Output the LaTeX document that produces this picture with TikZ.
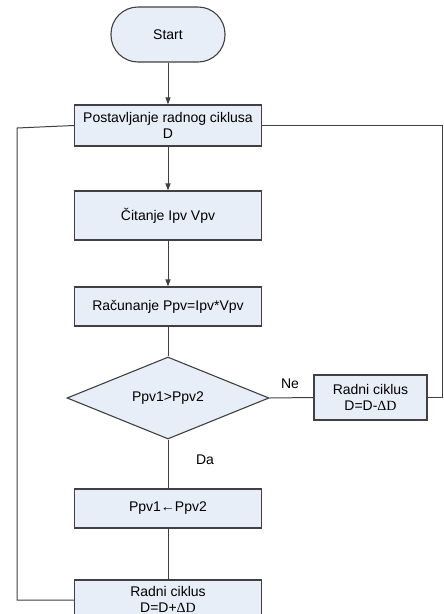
\documentclass[tikz,border=0pt]{standalone}
\usepackage{fontspec}
\setmainfont{Liberation Sans}
\newfontfamily\serifd{Liberation Serif}
\usetikzlibrary{shapes.geometric,arrows.meta}
\definecolor{boxfill}{RGB}{232,238,247}
\definecolor{linec}{RGB}{64,64,64}
\tikzset{
  txt/.style={font=\fontsize{14}{16}\selectfont},
  proc/.style={draw=linec, line width=1.1pt, fill=boxfill, minimum width=187pt, align=center, inner sep=0pt, txt},
  conn/.style={draw=linec, line width=1pt},
  arr/.style={conn, -{Triangle[length=7pt,width=5pt]}},
  lbl/.style={txt, inner sep=0pt}
}
\begin{document}
\begin{tikzpicture}[x=1pt,y=-1pt]
\useasboundingbox (0,0) rectangle (444,614);
\clip (0,0) rectangle (444,614);
\node[proc, rounded corners=27pt, minimum width=114pt, minimum height=55pt] (start) at (168,34.5) {Start};
\node[proc, minimum height=41pt] (set) at (168,125.5) {Postavljanje radnog ciklusa\\D};
\node[proc, minimum height=49pt] (read) at (168,215.5) {Čitanje Ipv Vpv};
\node[proc, minimum height=39pt] (calc) at (168,306.5) {Računanje Ppv=Ipv*Vpv};
\node[diamond, draw=linec, line width=1.1pt, fill=boxfill, minimum width=202pt, minimum height=82pt, aspect=2.46, inner sep=0pt] (dec) at (168,398) {};
\node[lbl] at (168,398) {Ppv1>Ppv2};
\node[proc, minimum width=113pt, minimum height=45pt] (dec2) at (370.5,397.5) {Radni ciklus\\D=D-{\serifd ΔD}};
\node[proc, minimum height=39pt] (upd) at (168,508.5) {Ppv1←Ppv2};
\node[proc, minimum height=38pt] (inc) at (168,599) {Radni ciklus\\D=D+{\serifd ΔD}};
\node[lbl] (ne) at (290,384) {Ne};
\node[lbl] (da) at (205,460) {Da};
\coordinate (rtop) at (442,125.5);
\coordinate (rbot) at (442,397.5);
\coordinate (ltop) at (17,128);
\coordinate (lbot) at (17,600);
\draw[arr] (start) -- (set);
\draw[arr] (set) -- (read);
\draw[arr] (read) -- (calc);
\draw[conn] (calc) -- (dec.north);
\draw[conn] (dec.east) -- (dec2.west);
\draw[conn] (dec2.east) -- (rbot) -- (rtop) -- (set.east);
\draw[conn] (dec.south) -- (upd.north);
\draw[conn] (upd) -- (inc);
\draw[conn] (inc.west |- lbot) -- (lbot) -- (ltop) -- (set.west);
\end{tikzpicture}
\end{document}
